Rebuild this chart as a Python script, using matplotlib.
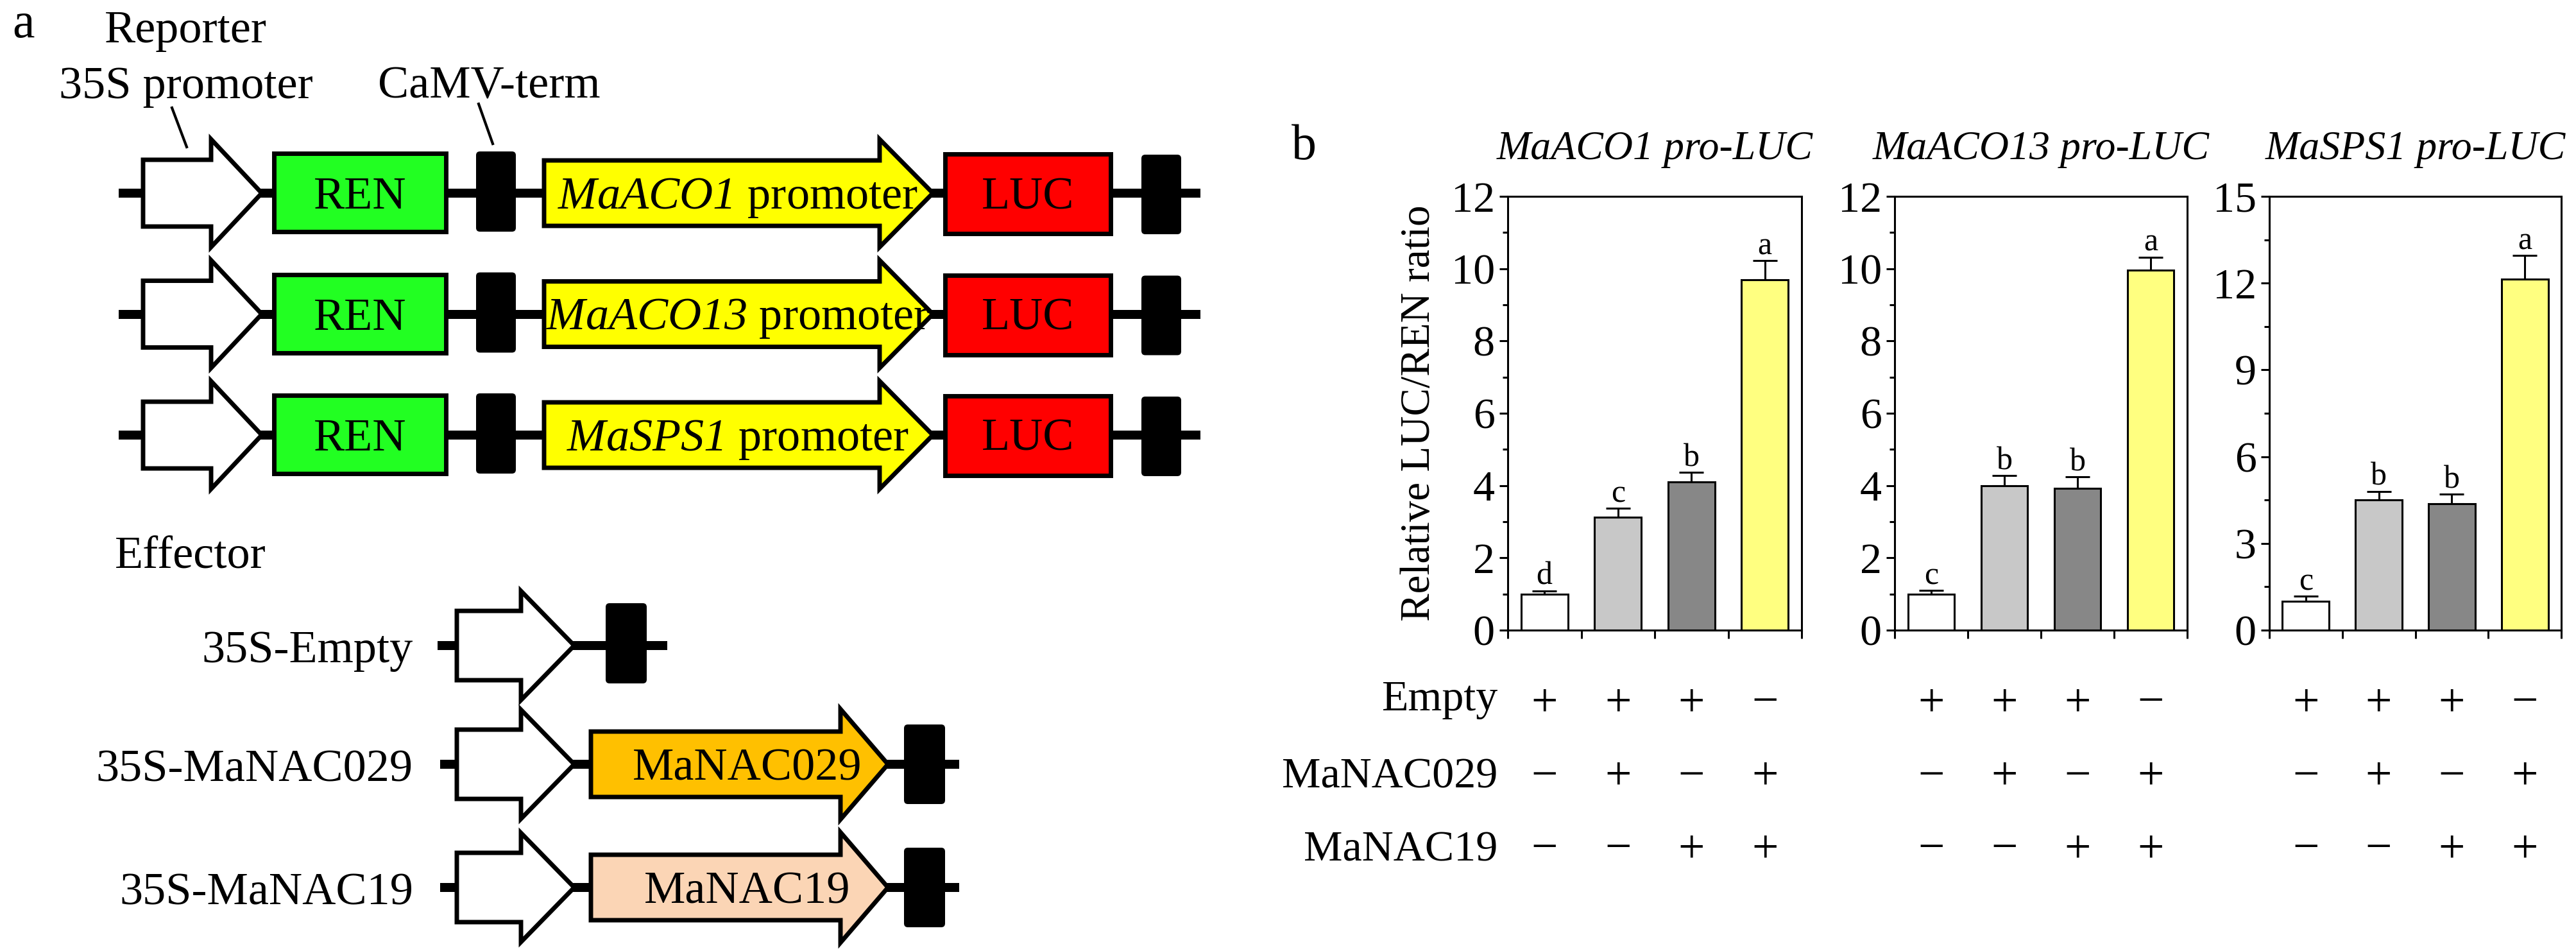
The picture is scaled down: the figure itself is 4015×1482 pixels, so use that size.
import numpy as np
import matplotlib
matplotlib.use('Agg')
import matplotlib.pyplot as plt
from matplotlib.patches import Polygon, Rectangle, FancyBboxPatch
from matplotlib.transforms import blended_transform_factory

plt.rcParams['font.family'] = ['Liberation Serif', 'DejaVu Serif']
plt.rcParams['mathtext.fontset'] = 'custom'
plt.rcParams['mathtext.rm'] = 'Liberation Serif'
plt.rcParams['mathtext.it'] = 'Liberation Serif:italic'
# sf slot used for italic gene names so digits stay italic too
plt.rcParams['mathtext.sf'] = 'Liberation Serif:italic'

# ---- panel b data ----
panel_titles = ['MaACO1 pro-LUC', 'MaACO13 pro-LUC', 'MaSPS1 pro-LUC']
aco1_mean = [1.0, 3.13, 4.10, 9.69]
aco1_err = [0.09, 0.24, 0.27, 0.53]
aco1_letters = ['d', 'c', 'b', 'a']
aco13_mean = [1.0, 4.0, 3.92, 9.96]
aco13_err = [0.10, 0.27, 0.32, 0.36]
aco13_letters = ['c', 'b', 'b', 'a']
sps1_mean = [1.0, 4.50, 4.38, 12.14]
sps1_err = [0.17, 0.30, 0.32, 0.82]
sps1_letters = ['c', 'b', 'b', 'a']
y_max = [12, 12, 15]
y_step = [2, 2, 3]
bar_colors = ['white', '#c8c8c8', '#878787', '#ffff80']

row_names = ['Empty', 'MaNAC029', 'MaNAC19']
empty_row = ['+', '+', '+', '\u2212']
nac029_row = ['\u2212', '+', '\u2212', '+']
nac19_row = ['\u2212', '\u2212', '+', '+']

# ---- panel a constructs ----
reporter_promoters = ['MaACO1', 'MaACO13', 'MaSPS1']
effector_names = ['35S-Empty', '35S-MaNAC029', '35S-MaNAC19']
effector_genes = [None, 'MaNAC029', 'MaNAC19']
gene_colors = [None, '#ffc000', '#fbd5b5']

W, H = 4016, 1482
fig = plt.figure(figsize=(W / 100, H / 100), dpi=100)

# overlay axes in pixel units for the schematic
axa = fig.add_axes([0, 0, 1, 1], zorder=0)
axa.set_xlim(0, W)
axa.set_ylim(H, 0)
axa.axis('off')

FS = 52
LW = 5


def backbone(x0, x1, yc):
    axa.add_patch(Rectangle((x0, yc - 7), x1 - x0, 14, fc='black', lw=0, zorder=1))


def box(x0, x1, yc, top, bot, fc):
    axa.add_patch(Rectangle((x0, yc - top), x1 - x0, top + bot, fc=fc, ec='black',
                            lw=LW, joinstyle='miter', zorder=3))


def term(x0, x1, yc, top, bot):
    axa.add_patch(FancyBboxPatch((x0, yc - top), x1 - x0, top + bot,
                                 boxstyle='round,pad=0,rounding_size=6',
                                 fc='black', ec='black', lw=0, zorder=3))


def arrow(x0, xh, x1, yc, hb, hh, fc):
    pts = [(x0, yc - hb), (xh, yc - hb), (xh, yc - hh), (x1, yc),
           (xh, yc + hh), (xh, yc + hb), (x0, yc + hb)]
    axa.add_patch(Polygon(pts, closed=True, fc=fc, ec='black', lw=LW,
                          joinstyle='miter', zorder=3))


axa.text(19, 58, 'a', fontsize=56, va='baseline')
axa.text(163, 66, 'Reporter', fontsize=FS, va='baseline')
axa.text(92, 153, '35S promoter', fontsize=FS, va='baseline')
axa.text(589, 153, 'CaMV-term', fontsize=FS, va='baseline')
axa.plot([268, 291], [168, 229], color='black', lw=3)
axa.plot([746, 768], [162, 224], color='black', lw=3)

for i, prom in enumerate(reporter_promoters):
    yc = 301 + 188.5 * i
    backbone(185, 1871, yc)
    arrow(223, 329, 408, yc, 52, 84, 'white')
    box(427, 695, yc, 62, 60, '#22ff22')
    term(742, 804, yc, 65, 60)
    arrow(848, 1371, 1454, yc, 51, 84, '#ffff00')
    box(1473, 1731, yc, 61, 63, '#ff0000')
    term(1779, 1841, yc, 60, 64)
    axa.text(561, yc + 24, 'REN', fontsize=FS, ha='center', va='baseline', zorder=4)
    axa.text(1150, yc + 24, r'$\mathsf{%s}$ promoter' % prom, fontsize=FS,
             ha='center', va='baseline', zorder=4)
    axa.text(1602, yc + 24, 'LUC', fontsize=FS, ha='center', va='baseline', zorder=4)

axa.text(179, 885, 'Effector', fontsize=FS, va='baseline')
eff_y = [1006, 1191, 1383]
for name, gene, col, yc in zip(effector_names, effector_genes, gene_colors, eff_y):
    axa.text(644, yc + 26, name, fontsize=FS, ha='right', va='baseline')
    arrow(712, 812, 895, yc, 54, 85, 'white')
    if gene is None:
        backbone(682, 1040, yc)
        term(944, 1008, yc, 66, 59)
    else:
        backbone(686, 1495, yc)
        arrow(921, 1310, 1384, yc, 51, 86, col)
        term(1409, 1473, yc, 62, 62)
        axa.text(1165, yc + 25, gene, fontsize=FS, ha='center', va='baseline', zorder=4)

# ---- panel b ----
fig.text(2013 / W, 1 - 248 / H, 'b', fontsize=56, va='baseline')

means = [aco1_mean, aco13_mean, sps1_mean]
errs = [aco1_err, aco13_err, sps1_err]
letters = [aco1_letters, aco13_letters, sps1_letters]
axes_px = [(2350, 2808), (2953, 3409), (3537, 3992)]
top_px, bot_px = 306, 982

x = np.arange(4)
axes = []
for k in range(3):
    x0, x1 = axes_px[k]
    ax = fig.add_axes([x0 / W, 1 - bot_px / H, (x1 - x0) / W, (bot_px - top_px) / H], zorder=2)
    axes.append(ax)
    ax.bar(x, means[k], width=0.64, color=bar_colors, edgecolor='black', linewidth=2.2, zorder=2)
    ax.errorbar(x, means[k], yerr=[np.zeros(4), errs[k]], fmt='none', ecolor='black',
                elinewidth=2.2, capsize=14, capthick=2.2, zorder=1)
    for xi, m, e, l in zip(x, means[k], errs[k], letters[k]):
        ax.annotate(l, (xi, m + e), xytext=(0, 7), textcoords='offset points',
                    ha='center', va='baseline', fontsize=36)
    ax.set_xlim(-0.5, 3.5)
    ax.set_ylim(0, y_max[k])
    ax.set_xticks([-0.5, 0.5, 1.5, 2.5, 3.5])
    ax.set_xticklabels([])
    ax.set_yticks(np.arange(0, y_max[k] + 0.1, y_step[k]))
    ax.set_yticks(np.arange(0, y_max[k] + 0.1, y_step[k] / 2), minor=True)
    ax.tick_params(which='major', direction='out', length=9.5, width=2.2, labelsize=49, pad=5)
    ax.tick_params(which='minor', direction='out', length=6, width=2.2)
    for sp in ax.spines.values():
        sp.set_linewidth(2.2)
    ax.set_title(panel_titles[k], fontstyle='italic', fontsize=46, pad=42)

axes[0].set_ylabel('Relative LUC/REN ratio', fontsize=47)
axes[0].yaxis.set_label_coords(-0.235, 0.5)

rows = [empty_row, nac029_row, nac19_row]
row_base = [1107, 1227, 1341]
sign_base = [1115, 1230, 1343]
for name, row, yb, ys in zip(row_names, rows, row_base, sign_base):
    fig.text(2334 / W, 1 - yb / H, name, fontsize=49, ha='right', va='baseline')
    for ax in axes:
        tr = blended_transform_factory(ax.transData, fig.transFigure)
        for xi, s in zip(x, row):
            ax.text(xi, 1 - ys / H, s, transform=tr, fontsize=53,
                    ha='center', va='baseline', clip_on=False)

fig.savefig('out.png', dpi=100)
